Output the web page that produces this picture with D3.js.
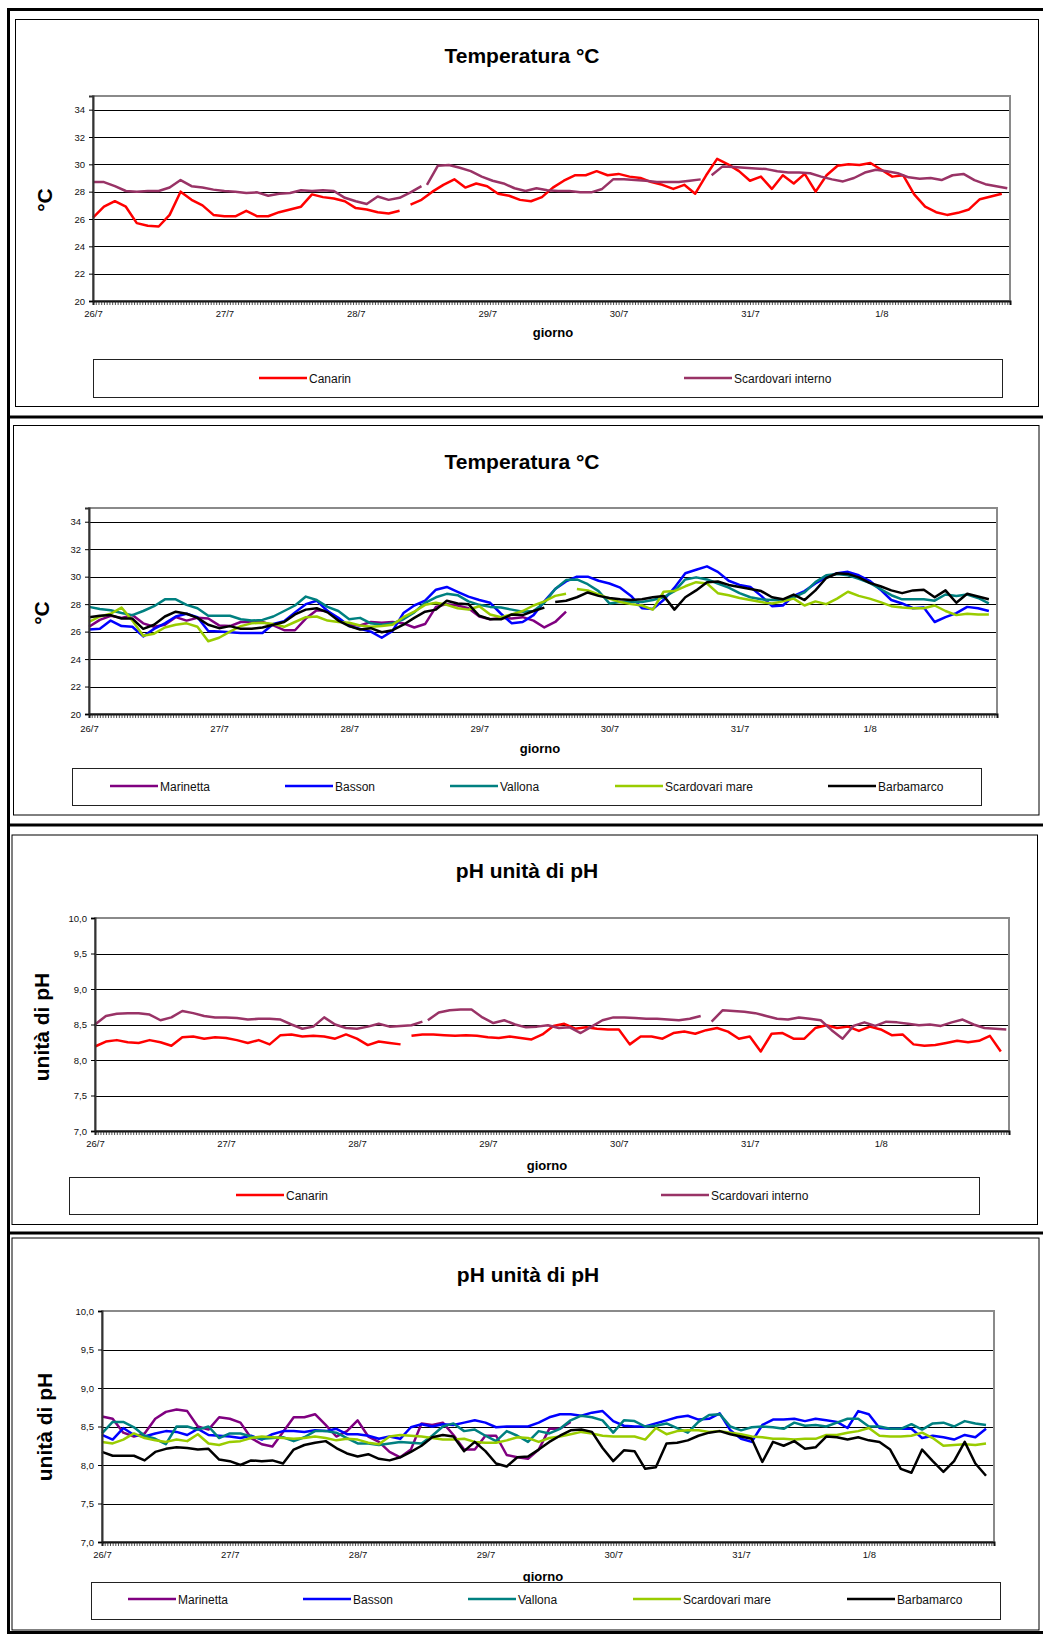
<!DOCTYPE html>
<html>
<head>
<meta charset="utf-8">
<script src="https://cdn.jsdelivr.net/npm/d3@7"></script>
<style>
  body { margin: 0; background: #fff; }
  svg { display: block; font-family: "Liberation Sans", Arial, sans-serif; }
</style>
</head>
<body>
<svg id="chart" width="1043" height="1634"></svg>
<script>
// readings every 2 hours from 26/7 00:00; each series is a list of [start hour, values]
var STEP = 2;
var dayLabels = ["26/7", "27/7", "28/7", "29/7", "30/7", "31/7", "1/8"];
var tempTicks = [20, 22, 24, 26, 28, 30, 32, 34];
var tempTickLabels = ["20", "22", "24", "26", "28", "30", "32", "34"];
var phTicks = [7, 7.5, 8, 8.5, 9, 9.5, 10];
var phTickLabels = ["7,0", "7,5", "8,0", "8,5", "9,0", "9,5", "10,0"];

// temperatura - lagune
var tempCanarin = [
  [0, [26.1,26.9,27.3,26.9,25.7,25.5,25.45,26.3,28.0,27.4,27.0,26.3,26.2,26.2,26.6,26.2,26.2,26.5,26.7,26.9,
       27.8,27.6,27.5,27.3,26.8,26.7,26.5,26.4,26.6]],
  [58, [27.05,27.4,28.0,28.5,28.9,28.3,28.6,28.4,27.85,27.7,27.4,27.3,27.6,28.3,28.8,29.2,29.2,29.5,29.2,29.3,
        29.1,29.0,28.7,28.5,28.2,28.5,27.85,29.2,30.4,30.0,29.5,28.8,29.1,28.2,29.2,28.6,29.3,28.0,29.2,29.9,
        30.0,29.95,30.1,29.6,29.1,29.2,27.8,26.9,26.5,26.3,26.45,26.7,27.45,27.65,27.85]]
];
var tempScardInt = [
  [0, [28.7,28.7,28.4,28.05,28.0,28.05,28.05,28.3,28.85,28.4,28.3,28.15,28.05,28.0,27.9,27.95,27.7,27.85,27.9,28.1,
       28.05,28.1,28.05,27.55,27.3,27.1,27.65,27.4,27.55,27.95,28.4]],
  [61, [28.5,29.9,29.95,29.75,29.5,29.1,28.8,28.6,28.25,28.05,28.25,28.1,28.05,28.05,27.95,27.95,28.2,28.9,28.9,28.85,
        28.8,28.7,28.7,28.7,28.8,28.9]],
  [113, [29.2,29.85,29.8,29.75,29.7,29.65,29.5,29.4,29.4,29.35,29.1,28.9,28.75,29.0,29.4,29.6,29.5,29.35,29.05,28.95,
         29.0,28.85,29.2,29.3,28.85,28.55,28.4,28.25]]
];

// temperatura - mare
var tempMarinetta = [
  [0, [26.35,26.85,27.15,27.0,27.2,26.6,26.35,26.5,27.05,26.8,27.0,26.95,26.45,26.4,26.7,26.7,26.7,26.45,26.1,26.1,
       26.95,27.55,27.5,26.85,26.5,26.45,26.7,26.65,26.7,26.6,26.3,26.55,27.8,28.0,27.9,27.7,27.1,26.9,27.0,26.95,
       27.05,26.8,26.3,26.7,27.45]]
];
var tempBasson = [
  [0, [26.15,26.2,26.8,26.4,26.35,25.65,26.2,26.6,27.1,27.3,27.05,26.05,26.0,25.95,25.9,25.9,25.9,26.55,26.75,27.4,
       28.0,28.25,27.5,27.0,26.4,26.2,26.0,25.55,26.05,27.35,27.9,28.25,29.05,29.25,28.9,28.55,28.3,28.1,27.3,26.6,
       26.7,27.2,28.2,29.1,29.65,30.0,30.0,29.7,29.5,29.2,28.6,27.7,27.65,28.3,29.2,30.25,30.5,30.75,30.35,29.7,
       29.4,29.25,28.6,27.85,27.9,28.6,28.95,29.5,29.95,30.25,30.35,30.1,29.7,29.05,28.3,28.05,27.7,27.75,26.7,27.05,
       27.35,27.8,27.7,27.5]]
];
var tempVallona = [
  [0, [27.8,27.65,27.55,27.35,27.2,27.5,27.85,28.35,28.35,27.95,27.7,27.15,27.15,27.15,26.9,26.8,26.85,27.1,27.5,27.9,
       28.55,28.3,27.8,27.5,26.9,27.0,26.6,26.5,26.6,26.9,27.4,28.1,28.5,28.75,28.65,28.2,27.95,27.8,27.75,27.6,
       27.45,27.5,28.1,29.1,29.75,29.8,29.45,28.95,28.05,28.15,28.15,28.15,28.3,28.5,28.95,29.8,29.95,29.8,29.5,29.2,
       28.8,28.5,28.35,28.3,28.3,28.5,28.85,29.6,30.1,30.2,30.1,29.85,29.55,29.1,28.65,28.35,28.35,28.35,28.25,28.7,
       28.6,28.7,28.45,28.05]]
];
var tempScardMare = [
  [0, [26.7,27.1,27.3,27.75,26.8,25.7,25.85,26.3,26.5,26.6,26.35,25.3,25.55,26.0,26.4,26.6,26.65,26.55,26.35,26.7,
       27.05,27.1,26.8,26.7,26.65,26.45,26.35,26.4,26.5,27.05,27.45,27.95,28.1,27.95,27.7,27.6,27.85,27.25,27.05,27.25,
       27.5,27.9,28.2,28.6,28.75]],
  [90, [29.1,29.0,28.7,28.4,28.15,28.0,27.9,27.6,28.9,28.95,29.3,29.6,29.5,28.8,28.65,28.45,28.3,28.15,28.05,28.2,
        28.4,27.9,28.2,28.0,28.4,28.9,28.6,28.4,28.15,27.85,27.75,27.7,27.7,27.9,27.5,27.2,27.3,27.25,27.25]]
];
var tempBarbamarco = [
  [0, [27.05,27.15,27.2,26.95,26.95,26.2,26.5,27.1,27.45,27.3,27.0,26.5,26.25,26.4,26.2,26.2,26.3,26.5,26.7,27.25,
       27.6,27.7,27.4,26.8,26.4,26.15,26.25,25.95,26.1,26.5,27.0,27.45,27.6,28.25,28.05,28.0,27.15,26.9,26.9,27.25,
       27.2,27.5,27.75]],
  [86, [28.15,28.25,28.5,28.85,28.6,28.45,28.35,28.3,28.35,28.5,28.6,27.6,28.5,29.0,29.6,29.65,29.4,29.25,29.1,28.95,
        28.5,28.35,28.7,28.3,29.0,29.9,30.25,30.2,29.95,29.55,29.3,29.0,28.8,29.0,29.05,28.5,29.0,28.1,28.75,28.55,
        28.35]]
];

// pH - lagune
var phCanarin = [
  [0, [8.19,8.26,8.28,8.25,8.24,8.28,8.25,8.2,8.32,8.33,8.3,8.32,8.31,8.28,8.24,8.28,8.22,8.35,8.36,8.33,
       8.34,8.33,8.3,8.36,8.3,8.21,8.26,8.24,8.22]],
  [58, [8.34,8.36,8.36,8.35,8.34,8.35,8.34,8.32,8.31,8.33,8.31,8.29,8.36,8.48,8.51,8.44,8.46,8.44,8.43,8.43,
        8.22,8.33,8.33,8.3,8.38,8.4,8.37,8.42,8.45,8.4,8.3,8.33,8.12,8.37,8.38,8.3,8.3,8.45,8.49,8.45,
        8.47,8.41,8.47,8.43,8.35,8.36,8.22,8.2,8.21,8.24,8.27,8.25,8.27,8.34,8.12]]
];
var phScardInt = [
  [0, [8.5,8.62,8.65,8.66,8.66,8.64,8.56,8.6,8.69,8.66,8.62,8.6,8.6,8.59,8.57,8.58,8.58,8.57,8.5,8.44,
       8.47,8.6,8.5,8.45,8.44,8.47,8.51,8.47,8.48,8.49,8.54]],
  [61, [8.56,8.67,8.7,8.71,8.71,8.6,8.52,8.56,8.5,8.46,8.47,8.49,8.45,8.46,8.38,8.47,8.56,8.6,8.6,8.59,
        8.58,8.58,8.57,8.56,8.58,8.62]],
  [113, [8.54,8.7,8.69,8.68,8.66,8.62,8.58,8.57,8.6,8.58,8.56,8.42,8.3,8.48,8.53,8.48,8.54,8.53,8.51,8.49,
         8.5,8.48,8.53,8.57,8.5,8.45,8.44,8.43]]
];

// pH - mare
var phMarinetta = [
  [0, [8.63,8.6,8.42,8.37,8.41,8.6,8.69,8.72,8.7,8.5,8.46,8.62,8.6,8.55,8.35,8.27,8.24,8.43,8.62,8.62,
       8.66,8.52,8.37,8.44,8.58,8.37,8.3,8.17,8.1,8.2,8.54,8.52,8.55,8.39,8.2,8.2,8.38,8.38,8.13,8.1,
       8.08,8.2,8.47,8.47,8.56]]
];
var phBasson = [
  [0, [8.39,8.33,8.48,8.39,8.37,8.41,8.44,8.43,8.39,8.47,8.39,8.38,8.37,8.35,8.38,8.33,8.4,8.44,8.44,8.43,
       8.45,8.44,8.47,8.4,8.4,8.38,8.34,8.37,8.34,8.49,8.53,8.5,8.53,8.52,8.55,8.58,8.55,8.49,8.5,8.5,
       8.5,8.55,8.62,8.66,8.66,8.64,8.68,8.7,8.57,8.51,8.5,8.5,8.54,8.58,8.62,8.64,8.59,8.6,8.67,8.45,
       8.34,8.3,8.52,8.59,8.59,8.6,8.57,8.6,8.58,8.56,8.48,8.7,8.66,8.48,8.47,8.47,8.47,8.35,8.38,8.36,
       8.33,8.39,8.36,8.47]]
];
var phVallona = [
  [0, [8.41,8.56,8.56,8.49,8.38,8.34,8.27,8.5,8.5,8.46,8.5,8.35,8.41,8.41,8.37,8.34,8.35,8.36,8.31,8.36,
       8.44,8.44,8.42,8.35,8.28,8.28,8.26,8.28,8.3,8.29,8.28,8.38,8.5,8.54,8.44,8.46,8.38,8.31,8.44,8.38,
       8.3,8.44,8.41,8.47,8.58,8.64,8.62,8.58,8.42,8.58,8.57,8.5,8.51,8.54,8.48,8.42,8.56,8.65,8.66,8.5,
       8.45,8.49,8.5,8.49,8.47,8.55,8.51,8.52,8.5,8.55,8.6,8.6,8.5,8.5,8.47,8.47,8.53,8.46,8.54,8.55,
       8.5,8.57,8.54,8.52]]
];
var phScardMare = [
  [0, [8.3,8.28,8.33,8.41,8.35,8.32,8.3,8.33,8.31,8.4,8.28,8.26,8.3,8.31,8.35,8.37,8.36,8.35,8.34,8.35,
       8.37,8.35,8.32,8.34,8.33,8.29,8.27,8.37,8.39,8.38,8.37,8.35,8.33,8.33,8.34,8.3,8.29,8.29,8.32,8.36,
       8.35,8.3,8.35,8.37,8.4,8.43,8.41,8.38,8.37,8.37,8.37,8.33,8.48,8.4,8.44,8.45,8.45,8.43,8.44,8.42,
       8.4,8.37,8.36,8.34,8.34,8.33,8.34,8.34,8.39,8.39,8.42,8.44,8.48,8.38,8.37,8.37,8.38,8.42,8.35,8.25,
       8.26,8.27,8.26,8.28]]
];
var phBarbamarco = [
  [0, [8.17,8.12,8.12,8.12,8.06,8.17,8.21,8.23,8.22,8.2,8.21,8.07,8.05,8.0,8.06,8.05,8.06,8.02,8.2,8.26,
       8.29,8.31,8.22,8.15,8.11,8.14,8.08,8.06,8.1,8.17,8.25,8.36,8.39,8.37,8.18,8.3,8.18,8.02,7.98,8.1,
       8.11,8.2,8.3,8.38,8.45,8.46,8.43,8.22,8.05,8.19,8.18,7.95,7.97,8.28,8.29,8.32,8.38,8.42,8.44,8.4,
       8.37,8.34,8.04,8.3,8.25,8.31,8.21,8.23,8.37,8.36,8.33,8.36,8.32,8.3,8.2,7.95,7.9,8.2,8.05,7.91,
       8.05,8.3,8.02,7.86]]
];

var HOURS_END = 167.5;

// layout of the four boxes
var panels = [
  {
    frame: [15.5, 19.5, 1038.5, 406.5],
    plot: {x0: 93, x1: 1010, y0: 96, y1: 301},
    title: "Temperatura °C", titleX: 522, titleY: 63,
    yTitle: "°C", yTitleX: 45, yTitleY: 200,
    yDomain: [20, 35], ticks: tempTicks, tickLabels: tempTickLabels,
    xLabPad: 9, giornoX: 553, giornoY: 337,
    legend: {x0: 93, x1: 1002, y0: 359, y1: 397, cy: 378, items: [259, 684]},
    series: [
      {name: "Canarin", color: "#ff0000", data: tempCanarin},
      {name: "Scardovari interno", color: "#993366", data: tempScardInt}
    ]
  },
  {
    frame: [13.5, 425.5, 1039, 815],
    plot: {x0: 89, x1: 997, y0: 508, y1: 714},
    title: "Temperatura °C", titleX: 522, titleY: 469,
    yTitle: "°C", yTitleX: 42, yTitleY: 613,
    yDomain: [20, 35], ticks: tempTicks, tickLabels: tempTickLabels,
    xLabPad: 11, giornoX: 540, giornoY: 753,
    legend: {x0: 72, x1: 981, y0: 768, y1: 805, cy: 786, items: [110, 285, 450, 615, 828]},
    series: [
      {name: "Marinetta", color: "#800080", data: tempMarinetta},
      {name: "Basson", color: "#0000ff", data: tempBasson},
      {name: "Vallona", color: "#008080", data: tempVallona},
      {name: "Scardovari mare", color: "#99cc00", data: tempScardMare},
      {name: "Barbamarco", color: "#000000", data: tempBarbamarco}
    ]
  },
  {
    frame: [12, 835, 1037.5, 1224.5],
    plot: {x0: 95, x1: 1009, y0: 918, y1: 1131},
    title: "pH unità di pH", titleX: 527, titleY: 878,
    yTitle: "unità di pH", yTitleX: 42, yTitleY: 1027,
    yDomain: [7, 10], ticks: phTicks, tickLabels: phTickLabels,
    xLabPad: 9, giornoX: 547, giornoY: 1170,
    legend: {x0: 69, x1: 979, y0: 1177, y1: 1214, cy: 1195, items: [236, 661]},
    series: [
      {name: "Canarin", color: "#ff0000", data: phCanarin},
      {name: "Scardovari interno", color: "#993366", data: phScardInt}
    ]
  },
  {
    frame: [12, 1238, 1039, 1630],
    plot: {x0: 102, x1: 994, y0: 1311, y1: 1542},
    title: "pH unità di pH", titleX: 528, titleY: 1282,
    yTitle: "unità di pH", yTitleX: 45, yTitleY: 1427,
    yDomain: [7, 10], ticks: phTicks, tickLabels: phTickLabels,
    xLabPad: 9, giornoX: 543, giornoY: 1581,
    legend: {x0: 91, x1: 1000, y0: 1582, y1: 1619, cy: 1599, items: [128, 303, 468, 633, 847]},
    series: [
      {name: "Marinetta", color: "#800080", data: phMarinetta},
      {name: "Basson", color: "#0000ff", data: phBasson},
      {name: "Vallona", color: "#008080", data: phVallona},
      {name: "Scardovari mare", color: "#99cc00", data: phScardMare},
      {name: "Barbamarco", color: "#000000", data: phBarbamarco}
    ]
  }
];

var svg = d3.select("#chart");

// thick outer frame and dividers
var outer = svg.append("g").attr("stroke", "#000").attr("stroke-width", 3);
outer.append("line").attr("x1", 8.5).attr("x2", 8.5).attr("y1", 8).attr("y2", 1634);
[9.5, 417, 825, 1233, 1632.5].forEach(function(yy) {
  outer.append("line").attr("x1", 7).attr("x2", 1043).attr("y1", yy).attr("y2", yy);
});

var dayHours = dayLabels.map(function(d, i) { return i * 24; });
var minorHours = d3.range(0, HOURS_END, 0.5);

function toPoints(seg) {
  return seg[1].map(function(v, i) { return {h: seg[0] + i * STEP, v: v}; });
}

function drawPanel(p) {
  var g = svg.append("g");
  var x = d3.scaleLinear().domain([0, HOURS_END]).range([p.plot.x0, p.plot.x1]);
  var y = d3.scaleLinear().domain(p.yDomain).range([p.plot.y1, p.plot.y0]);

  // inner thin frame
  g.append("rect")
    .attr("x", p.frame[0]).attr("y", p.frame[1])
    .attr("width", p.frame[2] - p.frame[0]).attr("height", p.frame[3] - p.frame[1])
    .attr("fill", "#fff").attr("stroke", "#000").attr("stroke-width", 1);

  // title
  g.append("text")
    .attr("x", p.titleX).attr("y", p.titleY)
    .attr("text-anchor", "middle")
    .attr("font-size", "21px").attr("font-weight", "bold")
    .text(p.title);

  // y axis title
  g.append("text")
    .attr("transform", "translate(" + p.yTitleX + "," + p.yTitleY + ")rotate(-90)")
    .attr("text-anchor", "middle").attr("dy", "0.35em")
    .attr("font-size", "21px").attr("font-weight", "bold")
    .text(p.yTitle);

  // gridlines
  g.append("g").selectAll("line")
    .data(p.ticks.slice(1))
    .enter().append("line")
    .attr("x1", p.plot.x0).attr("x2", p.plot.x1)
    .attr("y1", function(d) { return Math.round(y(d)) + 0.5; })
    .attr("y2", function(d) { return Math.round(y(d)) + 0.5; })
    .attr("stroke", "#000").attr("stroke-width", 1);

  // plot area border (grey)
  g.append("rect")
    .attr("x", p.plot.x0).attr("y", p.plot.y0)
    .attr("width", p.plot.x1 - p.plot.x0).attr("height", p.plot.y1 - p.plot.y0)
    .attr("fill", "none").attr("stroke", "#8a8a8a").attr("stroke-width", 2);

  // series
  var line = d3.line()
    .x(function(d) { return x(d.h); })
    .y(function(d) { return y(d.v); });
  var sg = g.append("g").attr("clip-path", null);
  p.series.forEach(function(s) {
    sg.append("g").selectAll("path")
      .data(s.data.map(toPoints))
      .enter().append("path")
      .attr("d", line)
      .attr("fill", "none")
      .attr("stroke", s.color)
      .attr("stroke-width", 2.5)
      .attr("stroke-linejoin", "round");
  });

  // y axis
  var ya = g.append("g")
    .attr("transform", "translate(" + p.plot.x0 + ",0)")
    .call(d3.axisLeft(y).tickValues(p.ticks).tickSize(4).tickPadding(4)
      .tickFormat(function(d, i) { return p.tickLabels[i]; }));
  ya.select(".domain").attr("stroke", "#333").attr("stroke-width", 2);
  ya.selectAll(".tick line").attr("stroke", "#000");
  ya.selectAll("text").attr("font-size", "9.5px").attr("font-family", null).attr("fill", "#111");

  // x axis: dense category ticks
  var xm = g.append("g")
    .attr("transform", "translate(0," + p.plot.y1 + ")")
    .call(d3.axisBottom(x).tickValues(minorHours).tickSize(4).tickFormat(""));
  xm.select(".domain").attr("stroke", "#111").attr("stroke-width", 2);
  xm.selectAll(".tick line").attr("stroke", "#222").attr("stroke-width", 0.8);

  // x axis: day labels
  var xl = g.append("g")
    .attr("transform", "translate(0," + p.plot.y1 + ")")
    .call(d3.axisBottom(x).tickValues(dayHours).tickSize(0).tickPadding(p.xLabPad)
      .tickFormat(function(d, i) { return dayLabels[i]; }));
  xl.select(".domain").remove();
  xl.selectAll("text").attr("font-size", "9.5px").attr("font-family", null).attr("fill", "#111");

  // x axis title
  g.append("text")
    .attr("x", p.giornoX).attr("y", p.giornoY)
    .attr("text-anchor", "middle")
    .attr("font-size", "13px").attr("font-weight", "bold")
    .text("giorno");

  // legend
  var L = p.legend;
  g.append("rect")
    .attr("x", L.x0 + 0.5).attr("y", L.y0 + 0.5)
    .attr("width", L.x1 - L.x0).attr("height", L.y1 - L.y0)
    .attr("fill", "#fff").attr("stroke", "#222").attr("stroke-width", 1);
  var items = g.append("g").selectAll("g")
    .data(p.series)
    .enter().append("g")
    .attr("transform", function(d, i) { return "translate(" + L.items[i] + "," + L.cy + ")"; });
  items.append("line")
    .attr("x1", 0).attr("x2", 48).attr("y1", 0).attr("y2", 0)
    .attr("stroke", function(d) { return d.color; })
    .attr("stroke-width", 2.5);
  items.append("text")
    .attr("x", 50).attr("y", 4.5)
    .attr("font-size", "12px").attr("fill", "#111")
    .text(function(d) { return d.name; });
}

panels.forEach(drawPanel);
</script>
</body>
</html>
